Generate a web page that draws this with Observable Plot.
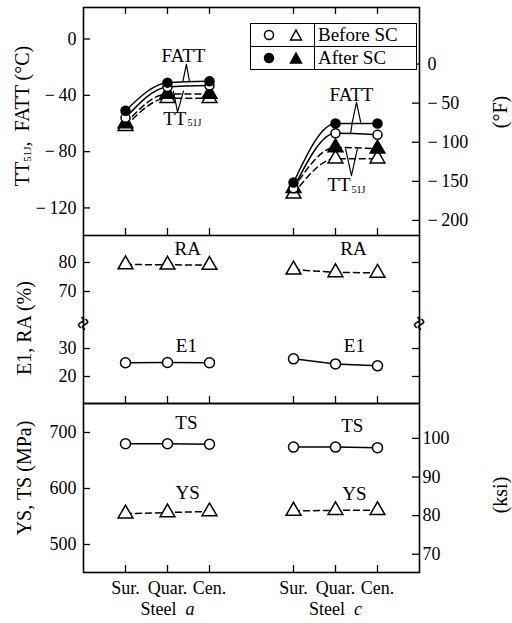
<!DOCTYPE html>
<html><head><meta charset="utf-8">
<script src="https://cdn.jsdelivr.net/npm/d3@7"></script>
<script src="https://cdn.jsdelivr.net/npm/@observablehq/plot@0.6"></script>
<style>
body{margin:0;background:#fff;}
#chart{position:relative;width:512px;height:623px;font-family:"Liberation Serif","Times New Roman",serif;color:#000;overflow:hidden;}
.panel{position:absolute;left:0;}
.ytitle{position:absolute;transform:translate(-50%,-50%) rotate(-90deg);white-space:nowrap;font-size:20px;line-height:1;}
.ytitle sub{font-size:11px;vertical-align:-2px;}
#legend{position:absolute;left:250px;top:23px;width:167px;height:47px;border:1.5px solid #000;box-sizing:border-box;display:grid;grid-template-columns:64px 1fr;grid-template-rows:1fr 1fr;font-size:19px;background:#fff;}
#legend .sym{border-right:1.5px solid #000;display:flex;align-items:center;justify-content:space-around;padding:0 4px;}
#legend .lab{display:flex;align-items:center;padding-left:3px;}
#legend .top{border-bottom:1.5px solid #000;}
</style></head><body><div id="chart"></div>
<script>
// ---- data ----
const positions = ["Sur.", "Quar.", "Cen."];
const steels = ["a", "c"];
// order: steel a (Sur, Quar, Cen), steel c (Sur, Quar, Cen)
const fattBefore = [-56, -34, -33, -106, -67, -68];
const fattAfter  = [-51, -31, -30, -102, -60, -60];
const ttBefore   = [-62, -42, -42, -110, -85, -85];
const ttAfter    = [-60, -39, -39, -106, -77, -78];
const raValues = [79.3, 79.2, 79.1, 77.5, 76.6, 76.4];
const elValues = [24.9, 25.0, 24.9, 26.3, 24.5, 23.8];
const tsValues = [680, 680, 679, 674, 674, 673];
const ysValues = [555, 557, 559, 560, 561, 561];
const tempTicksC = [0, -40, -80, -120];
const tempTicksF = [0, -50, -100, -150, -200];
const raTicks = [70, 80];
const elTicks = [20, 30];
const strengthTicksMPa = [500, 600, 700];
const strengthTicksKsi = [70, 80, 90, 100];
const legendLabels = ["Before SC", "After SC"];
// annotation labels (data coordinates)
const tempLabels = [{text: "FATT", x: 1.38, y: -11.7}, {text: "FATT", x: 5.38, y: -40}];
const ttLabels = [{x: 1.45, y: -56.5}, {x: 5.36, y: -104}];
const callouts = [
  {id: 1, pts: [[1.37, -29.5], [1.45, -18], [1.52, -29.5]]},
  {id: 2, pts: [[1.14, -37], [1.24, -52], [1.38, -37]]},
  {id: 3, pts: [[5.36, -67], [5.40, -59], [5.50, -45], [5.60, -59]]},
  {id: 4, pts: [[5.24, -78], [5.38, -97], [5.52, -78]]}
];
const raLabels = [{text: "RA", x: 1.48, y: 84.8}, {text: "RA", x: 5.43, y: 84.8}];
const elLabels = [{text: "E1", x: 1.45, y: 31.1}, {text: "E1", x: 5.45, y: 31.1}];
const strLabels = [{text: "TS", x: 1.45, y: 718}, {text: "TS", x: 5.40, y: 712}, {text: "YS", x: 1.48, y: 593}, {text: "YS", x: 5.45, y: 591}];

// ---- helpers ----
const slotX = i => Math.floor(i / 3) * 4 + (i % 3);
const xSlots = positions.concat(positions).map((_, i) => slotX(i));
const rows = (vals) => vals.map((v, i) => ({x: slotX(i), v, steel: steels[Math.floor(i / 3)]}));
const minus = d => d < 0 ? "\u2212\u2009" + (-d) : String(d);
const fToC = f => (f - 32) * 5 / 9;
const ksiToMPa = k => k * 6.894757;

const W = 512, ML = 83, MR = 93, FW = W - ML - MR, TL = 7;
const font = '"Liberation Serif","Times New Roman",serif';
const baseStyle = {background: "transparent", overflow: "visible", fontFamily: font, fontSize: "18px", color: "#000"};
const chart = document.getElementById("chart");
function place(svg, top) {
  const d = document.createElement("div");
  d.className = "panel"; d.style.top = top + "px";
  d.appendChild(svg); chart.appendChild(d);
}
function dots(data, symbol, fill, r) {
  return Plot.dot(data, {x: "x", y: "v", symbol, fill, stroke: "black", strokeWidth: 1.5, r});
}
const seriesLine = (data, dashed, curve = "linear") => Plot.line(data, {x: "x", y: "v", z: "steel", curve, stroke: "black", strokeWidth: 1.5, strokeDasharray: dashed ? "6,4" : null});
const sideRules = () => Plot.ruleX([-1, 7], {x: d => d, stroke: "black", strokeWidth: 1.6});

// ---- panel 1 : temperatures ----
const H1 = 236, FH1 = H1 - TL - 1;
const fb = rows(fattBefore), fa = rows(fattAfter), tb = rows(ttBefore), ta = rows(ttAfter);
const calloutPts = callouts.flatMap(c => c.pts.map(([x, y]) => ({id: c.id, x, y})));
const p1 = Plot.plot({
  width: W, height: H1, marginLeft: ML, marginRight: MR, marginTop: TL, marginBottom: 1,
  style: baseStyle,
  x: {domain: [-1, 7], axis: null},
  y: {domain: [-139.6, 22.4], ticks: tempTicksC, tickSize: 0, tickPadding: 7, tickFormat: minus, label: null},
  marks: [
    seriesLine(fb, false, "monotone-x"), seriesLine(fa, false, "monotone-x"),
    seriesLine(tb, true, "monotone-x"), seriesLine(ta, true, "monotone-x"),
    Plot.line(calloutPts, {x: "x", y: "y", z: "id", stroke: "black", strokeWidth: 1.2}),
    dots(tb, "triangle", "white", 5.5), dots(ta, "triangle", "black", 5.5),
    dots(fb, "circle", "white", 4.5), dots(fa, "circle", "black", 4.5),
    Plot.text(tempLabels, {x: "x", y: "y", text: "text", fontSize: 19}),
    Plot.text(ttLabels, {x: "x", y: "y", text: () => "TT", textAnchor: "end", fontSize: 19}),
    Plot.text(ttLabels, {x: "x", y: "y", text: () => "51J", textAnchor: "start", fontSize: 10, dy: 4, dx: 1}),
    Plot.ruleY(tempTicksC, {y: d => d, insetRight: FW - 7, strokeWidth: 1.3}),
    Plot.ruleY(tempTicksF, {y: fToC, insetLeft: FW - 7, strokeWidth: 1.3}),
    Plot.text(tempTicksF, {x: 7, y: fToC, text: minus, textAnchor: "start", dx: 8}),
    Plot.ruleX(xSlots, {x: d => d, insetBottom: FH1 - 7, strokeWidth: 1.3}),
    Plot.ruleX(xSlots, {x: d => d, insetTop: FH1 - 7, strokeWidth: 1.3}),
    Plot.frame({stroke: "black", strokeWidth: 1.6})
  ]
});
place(p1, 0);

// ---- panel 2 : reduction of area (upper part of broken axis) ----
const ra = rows(raValues), el = rows(elValues);
const H2a = 88;
const p2a = Plot.plot({
  width: W, height: H2a, marginLeft: ML, marginRight: MR, marginTop: 0, marginBottom: 0,
  style: baseStyle,
  x: {domain: [-1, 7], axis: null},
  y: {domain: [58.97, 89.3], ticks: raTicks, tickSize: 0, tickPadding: 7, label: null},
  marks: [
    seriesLine(ra, true),
    dots(ra, "triangle", "white", 5.5),
    Plot.text(raLabels, {x: "x", y: "y", text: "text", fontSize: 19}),
    Plot.ruleY(raTicks, {y: d => d, insetRight: FW - 7, strokeWidth: 1.3}),
    Plot.ruleY(raTicks, {y: d => d, insetLeft: FW - 7, strokeWidth: 1.3}),
    sideRules()
  ]
});
place(p2a, 235);

// ---- panel 2 : elongation (lower part of broken axis) ----
const H2b = 81, FH2b = H2b - 1;
const p2b = Plot.plot({
  width: W, height: H2b, marginLeft: ML, marginRight: MR, marginTop: 0, marginBottom: 1,
  style: baseStyle,
  x: {domain: [-1, 7], axis: null},
  y: {domain: [10.36, 38.93], ticks: elTicks, tickSize: 0, tickPadding: 7, label: null},
  marks: [
    seriesLine(el, false),
    dots(el, "circle", "white", 5),
    Plot.text(elLabels, {x: "x", y: "y", text: "text", fontSize: 19}),
    Plot.ruleY(elTicks, {y: d => d, insetRight: FW - 7, strokeWidth: 1.3}),
    Plot.ruleY(elTicks, {y: d => d, insetLeft: FW - 7, strokeWidth: 1.3}),
    Plot.ruleX(xSlots, {x: d => d, insetTop: FH2b - 7, strokeWidth: 1.3}),
    sideRules(),
    Plot.ruleY([10.36], {y: d => d, stroke: "black", strokeWidth: 1.6}),
    Plot.text([-1, 7], {x: d => d, y: 38.93, text: () => "\u2248", fontSize: 22, fontWeight: "bold", rotate: -65})
  ]
});
place(p2b, 323);

// ---- panel 3 : strengths ----
const H3 = 220, MB3 = 51, FH3 = H3 - MB3;
const ts = rows(tsValues), ys = rows(ysValues);
const p3 = Plot.plot({
  width: W, height: H3, marginLeft: ML, marginRight: MR, marginTop: 0, marginBottom: MB3,
  style: baseStyle,
  x: {domain: [-1, 7], ticks: xSlots, tickFormat: d => positions[d % 4], tickSize: 0, tickPadding: 9, label: null},
  y: {domain: [450, 751.8], ticks: strengthTicksMPa, tickSize: 0, tickPadding: 7, label: null},
  marks: [
    seriesLine(ts, false), seriesLine(ys, true),
    dots(ys, "triangle", "white", 5.5), dots(ts, "circle", "white", 5),
    Plot.text(strLabels, {x: "x", y: "y", text: "text", fontSize: 19}),
    Plot.ruleY(strengthTicksMPa, {y: d => d, insetRight: FW - 7, strokeWidth: 1.3}),
    Plot.ruleY(strengthTicksKsi, {y: ksiToMPa, insetLeft: FW - 7, strokeWidth: 1.3}),
    Plot.text(strengthTicksKsi, {x: 7, y: ksiToMPa, text: d => String(d), textAnchor: "start", dx: 3}),
    Plot.ruleX(xSlots, {x: d => d, insetTop: FH3 - 7, strokeWidth: 1.3}),
    Plot.text(steels, {x: (d, i) => i * 4 + 1, text: d => "Steel " + d, frameAnchor: "bottom", dy: 42, fontSize: 18}),
    Plot.frame({stroke: "black", strokeWidth: 1.6})
  ]
});
d3.select(p3).selectAll("text").filter(function () { return /^Steel /.test(this.textContent); }).each(function () {
  const t = this.textContent, letter = t.slice(6);
  this.textContent = "";
  d3.select(this).append("tspan").text("Steel\u00a0\u00a0");
  d3.select(this).append("tspan").attr("font-style", "italic").text(letter);
});
place(p3, 403);

// ---- axis titles ----
function title(html, cx, cy) {
  const d = document.createElement("div");
  d.className = "ytitle"; d.innerHTML = html;
  d.style.left = cx + "px"; d.style.top = cy + "px";
  chart.appendChild(d);
}
title("TT<sub>51J</sub>,&nbsp; FATT (\u00b0C)", 22, 116);
title("E1, RA (%)", 24, 328);
title("YS, TS (MPa)", 24, 478);
title("(\u00b0F)", 500, 112);
title("(ksi)", 500, 495);

// ---- legend ----
const lg = document.createElement("div");
lg.id = "legend";
const symSvg = (shape, fill) => shape === "circle"
  ? `<svg width="14" height="14"><circle cx="7" cy="7" r="4.5" fill="${fill}" stroke="#000" stroke-width="1.5"/></svg>`
  : `<svg width="14" height="14"><path d="M7,2 L12.5,12 L1.5,12 Z" fill="${fill}" stroke="#000" stroke-width="1.5"/></svg>`;
legendLabels.forEach((lab, i) => {
  const fill = i === 0 ? "#fff" : "#000";
  const cls = i === 0 ? " top" : "";
  lg.insertAdjacentHTML("beforeend", `<div class="sym${cls}">${symSvg("circle", fill)}${symSvg("triangle", fill)}</div><div class="lab${cls}">${lab}</div>`);
});
chart.appendChild(lg);
</script></body></html>
